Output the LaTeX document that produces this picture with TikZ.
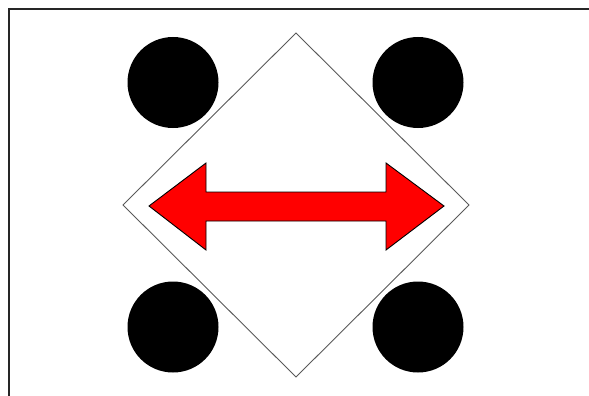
\documentclass[tikz,border=0pt]{standalone}
\usepackage{tikz}
\usetikzlibrary{calc}
\begin{document}
\begin{tikzpicture}[x=1pt,y=-1pt]
    \useasboundingbox (0,0) rectangle (589,396);
    \coordinate (O) at (296,205);
    \draw[line width=1.6pt,black!85] (9,396) -- (9,9) -- (589,9);
    \draw[line width=0.9pt,black!65] ($(O)+(0,-172)$) -- ($(O)+(173,0)$) -- ($(O)+(0,172)$) -- ($(O)+(-173,0)$) -- cycle;
    \fill (173,82.5) circle (45.5);
    \fill (418,82.5) circle (45.5);
    \fill (173,327) circle (45.5);
    \fill (418,327) circle (45.5);
    \draw[fill=red,line width=0.9pt,line join=miter] (149,206) -- (206,163) -- (206,192) -- (386,192) -- (386,163)
        -- (444,206) -- (386,250) -- (386,221) -- (206,221) -- (206,250) -- cycle;
\end{tikzpicture}
\end{document}
